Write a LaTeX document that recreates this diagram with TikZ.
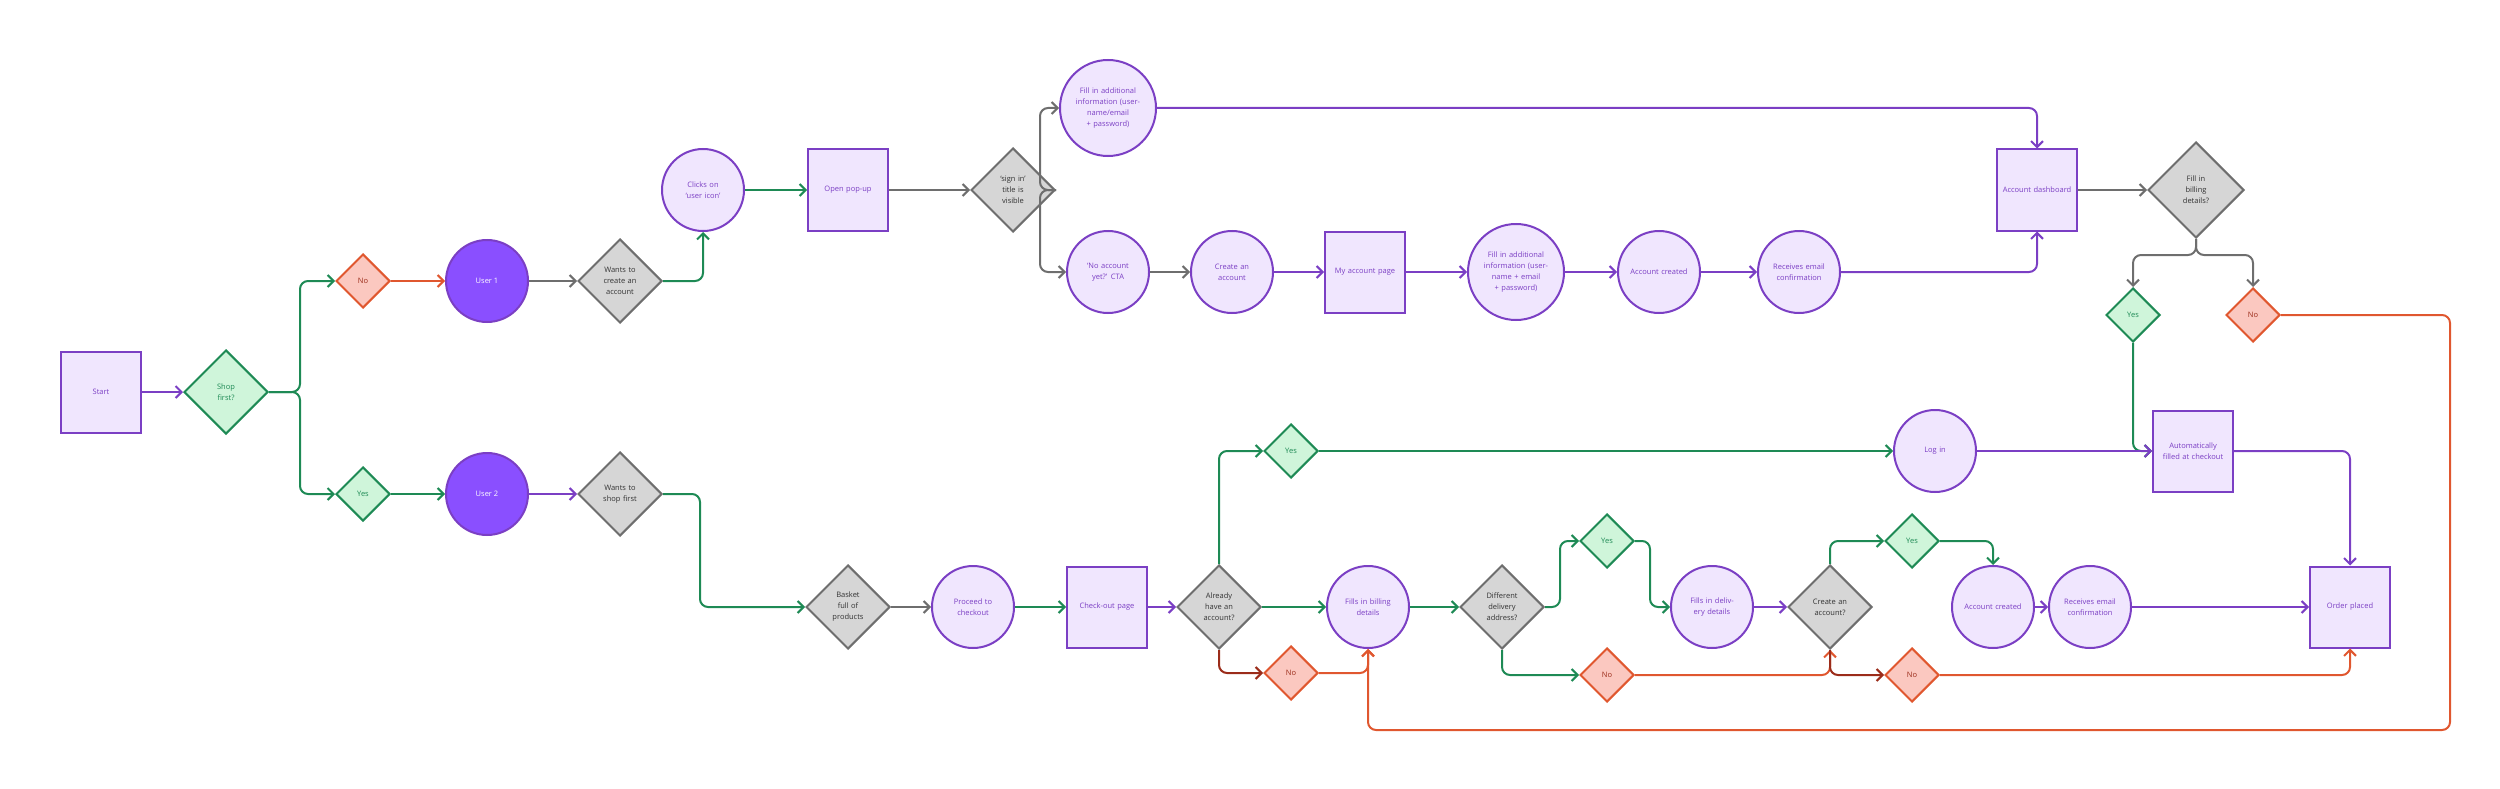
\documentclass[tikz,border=0pt]{standalone}
\usepackage{fontspec}
\setmainfont{Open Sans}
\usetikzlibrary{shapes.geometric,arrows.meta}
\definecolor{pst}{HTML}{7B3FC4}\definecolor{pfl}{HTML}{F0E6FE}
\definecolor{ufl}{HTML}{8A4FFF}
\definecolor{gst}{HTML}{1E8A55}\definecolor{gfl}{HTML}{CFF5DA}
\definecolor{rst}{HTML}{E0572F}\definecolor{rfl}{HTML}{FBC8C0}
\definecolor{kst}{HTML}{6E6E6E}\definecolor{kfl}{HTML}{D6D6D6}
\definecolor{drd}{HTML}{9B2C1A}
\tikzset{
 base/.style={line width=2pt,align=center,font=\fontsize{7.5}{11}\selectfont,inner sep=0pt},
 sq/.style={base,draw=pst,fill=pfl,text=pst,minimum width=80,minimum height=81,text width=74},
 ci/.style={base,circle,draw=pst,fill=pfl,text=pst,minimum size=82,text width=62},
 cib/.style={ci,minimum size=96,text width=74},
 us/.style={base,circle,draw=pst,fill=ufl,text=white,minimum size=82},
 dg/.style={base,diamond,draw=kst,fill=kfl,text=black!80,minimum width=84,minimum height=84,text width=40},
 dgb/.style={dg,minimum width=96,minimum height=96},
 dgr/.style={base,diamond,draw=gst,fill=gfl,text=gst,minimum width=54,minimum height=54},
 dgrb/.style={dgr,minimum width=84,minimum height=84,text width=36},
 drd/.style={base,diamond,draw=rst,fill=rfl,text=drd,minimum width=54,minimum height=54},
 ln/.style={line width=2pt,rounded corners=8pt,-{Straight Barb[length=6pt,width=12pt]}},
 lp/.style={ln,draw=pst}, lg/.style={ln,draw=gst}, lk/.style={ln,draw=kst},
 lr/.style={ln,draw=rst}, ld/.style={ln,draw=drd},
}
\begin{document}
\begin{tikzpicture}[x=1pt,y=-1pt]
\useasboundingbox (0,0) rectangle (2500,789);
\node[sq] (start) at (101,392) {Start};
\node[dgrb] (shop) at (226,392) {Shop\\first?};
\node[drd] (no1) at (363,281) {No};
\node[dgr] (yes1) at (363,494) {Yes};
\node[us] (u1) at (487,281) {User 1};
\node[us] (u2) at (487,494) {User 2};
\node[dg] (want1) at (620,281) {Wants to create an account};
\node[dg] (want2) at (620,494) {Wants to shop first};
\node[ci] (click) at (703,190) {Clicks on `user icon'};
\node[sq] (popup) at (848,190) {Open pop-up};
\node[dg] (signin) at (1013,190) {`sign in' title is visible};
\node[cib] (fill1) at (1108,108) {Fill in additional information (username/email + password)};
\node[ci] (noacc) at (1108,272) {`No account yet?' CTA};
\node[ci] (create) at (1232,272) {Create an account};
\node[sq] (myacc) at (1365,272) {My account page};
\node[cib] (fill2) at (1516,272) {Fill in additional information (username + email + password)};
\node[ci] (acc1) at (1659,272) {Account created};
\node[ci] (recv1) at (1799,272) {Receives email confirmation};
\node[sq] (dash) at (2037,190) {Account dashboard};
\node[dgb] (billq) at (2196,190) {Fill in billing details?};
\node[dgr] (yes3) at (2133,315) {Yes};
\node[drd] (no3) at (2253,315) {No};
\node[sq] (auto) at (2193,451) {Automatically filled at checkout};
\node[ci] (login) at (1935,451) {Log in};
\node[dgr] (yes4) at (1291,451) {Yes};
\node[dg] (basket) at (848,607) {Basket full of products};
\node[ci] (proc) at (973,607) {Proceed to checkout};
\node[sq] (chk) at (1107,607) {Check-out page};
\node[dg] (already) at (1219,607) {Already have an account?};
\node[drd] (no4) at (1291,673) {No};
\node[ci] (fillsb) at (1368,607) {Fills in billing details};
\node[dg] (diffq) at (1502,607) {Different delivery address?};
\node[dgr] (yes5) at (1607,541) {Yes};
\node[drd] (no5) at (1607,675) {No};
\node[ci] (fillsd) at (1712,607) {Fills in delivery details};
\node[dg] (createq) at (1830,607) {Create an account?};
\node[dgr] (yes6) at (1912,541) {Yes};
\node[drd] (no6) at (1912,675) {No};
\node[ci] (acc2) at (1993,607) {Account created};
\node[ci] (recv2) at (2090,607) {Receives email confirmation};
\node[sq] (order) at (2350,607) {Order placed};
\coordinate (c1) at (300,392); \coordinate (c2) at (1040,190);
\coordinate (c3) at (2196,255); \coordinate (c4) at (2450,315);
\coordinate (c5) at (2450,730); \coordinate (c6) at (700,494);
\coordinate (c7) at (1560,607); \coordinate (c8) at (1650,541);
\draw[lp] (start) -- (shop);
\draw[lg] (shop.east) -- (c1) |- (no1.west);
\draw[lg] (shop.east) -- (c1) |- (yes1.west);
\draw[lr] (no1) -- (u1);
\draw[lg] (yes1) -- (u2);
\draw[lk] (u1) -- (want1);
\draw[lp] (u2) -- (want2);
\draw[lg] (want1.east) -| (click.south);
\draw[lg] (click) -- (popup);
\draw[lk] (popup) -- (signin);
\draw[lk] (signin.east) -- (c2) |- (fill1.west);
\draw[lk] (signin.east) -- (c2) |- (noacc.west);
\draw[lk] (noacc) -- (create);
\draw[lp] (create) -- (myacc);
\draw[lp] (myacc) -- (fill2);
\draw[lp] (fill2) -- (acc1);
\draw[lp] (acc1) -- (recv1);
\draw[lp] (recv1.east) -| (dash.south);
\draw[lp] (fill1.east) -| (dash.north);
\draw[lk] (dash) -- (billq);
\draw[lk] (billq.south) -- (c3) -| (yes3.north);
\draw[lk] (billq.south) -- (c3) -| (no3.north);
\draw[lg] (yes3.south) |- (auto.west);
\draw[lr] (no3.east) -- (c4) -- (c5) -| (fillsb.south);
\draw[lp] (auto.east) -| (order.north);
\draw[lg] (want2.east) -- (c6) |- (basket.west);
\draw[lk] (basket) -- (proc);
\draw[lg] (proc) -- (chk);
\draw[lp] (chk) -- (already);
\draw[lg] (already.north) |- (yes4.west);
\draw[lg] (yes4) -- (login);
\draw[lp] (login) -- (auto);
\draw[lg] (already) -- (fillsb);
\draw[ld] (already.south) |- (no4.west);
\draw[lr] (no4.east) -| (fillsb.south);
\draw[lg] (fillsb) -- (diffq);
\draw[lg] (diffq.east) -- (c7) |- (yes5.west);
\draw[lg] (yes5.east) -- (c8) |- (fillsd.west);
\draw[lg] (diffq.south) |- (no5.west);
\draw[lr] (no5.east) -| (createq.south);
\draw[lp] (fillsd) -- (createq);
\draw[lg] (createq.north) |- (yes6.west);
\draw[lg] (yes6.east) -| (acc2.north);
\draw[ld] (createq.south) |- (no6.west);
\draw[lr] (no6.east) -| (order.south);
\draw[lp] (acc2) -- (recv2);
\draw[lp] (recv2) -- (order);
\end{tikzpicture}
\end{document}
